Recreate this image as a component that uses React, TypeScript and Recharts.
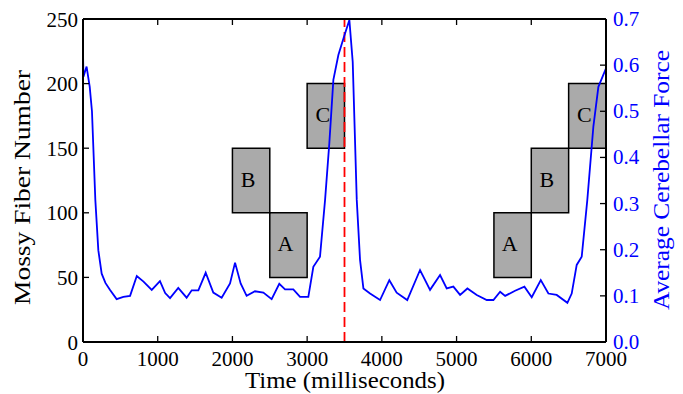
import React from 'react';
import { ComposedChart, Line, XAxis, YAxis, ReferenceArea, ReferenceLine } from 'recharts';

const FONT = '"Liberation Serif", "Times New Roman", serif';

// Time (ms) and average cerebellar force
const timeMs = [
  0, 6, 48, 90, 120, 165, 205, 250, 300, 360, 450, 540, 630, 720, 810, 920, 1030, 1100, 1165,
  1275, 1387, 1455, 1544, 1642, 1744, 1856, 1968, 2035, 2110, 2190, 2302, 2414, 2525, 2627,
  2704, 2815, 2905, 3016, 3083, 3172, 3240, 3297, 3351, 3418, 3490, 3565, 3610, 3664, 3708,
  3753, 3842, 3976, 4100, 4198, 4340, 4511, 4645, 4779, 4868, 4957, 5047, 5145, 5270, 5404,
  5493, 5583, 5650, 5783, 5908, 6006, 6127, 6229, 6340, 6483, 6541, 6608, 6675, 6750, 6831,
  6898, 7000,
];
const force = [
  0.628, 0.575, 0.597, 0.553, 0.5, 0.308, 0.199, 0.148, 0.128, 0.113, 0.093, 0.098, 0.1, 0.143,
  0.131, 0.113, 0.132, 0.106, 0.095, 0.117, 0.096, 0.112, 0.112, 0.15, 0.107, 0.096, 0.127,
  0.172, 0.127, 0.1, 0.11, 0.107, 0.093, 0.126, 0.114, 0.114, 0.098, 0.098, 0.163, 0.185,
  0.308, 0.431, 0.568, 0.622, 0.66, 0.698, 0.607, 0.308, 0.178, 0.116, 0.105, 0.091, 0.134,
  0.107, 0.091, 0.156, 0.113, 0.145, 0.116, 0.12, 0.102, 0.116, 0.102, 0.091, 0.091, 0.109,
  0.1, 0.111, 0.12, 0.097, 0.134, 0.105, 0.102, 0.085, 0.105, 0.167, 0.185, 0.308, 0.467,
  0.553, 0.593,
];

const xTicks = [0, 1000, 2000, 3000, 4000, 5000, 6000, 7000];
const leftTicks = [0, 50, 100, 150, 200, 250];
const rightTicks = [0, 0.1, 0.2, 0.3, 0.4, 0.5, 0.6, 0.7];

// Mossy fiber boxes
const boxLabels = ['A', 'B', 'C', 'A', 'B', 'C'];
const boxStart = [2500, 2000, 3000, 5500, 6000, 6500];
const boxEnd = [3000, 2500, 3500, 6000, 6500, 7000];
const boxLow = [50, 100, 150, 50, 100, 150];
const boxHigh = [100, 150, 200, 100, 150, 200];

const markerTime = 3500;

const data = timeMs.map((t, i) => ({ t, force: force[i] }));

const TL = 6;
const TW = 1.3;

// tickSize = 0 and tickMargin = 0, so (x, y) is the tick's point on the frame; ticks point inward
const BottomTick = (p: any) => (
  <g>
    <line x1={p.x} y1={p.y} x2={p.x} y2={p.y - TL} stroke="#000" strokeWidth={TW} />
    <text x={p.x} y={p.y + 24} textAnchor="middle" fontSize={21} fill="#000" fontFamily={FONT}>
      {p.payload.value}
    </text>
  </g>
);
const TopTick = (p: any) => (
  <line x1={p.x} y1={p.y} x2={p.x} y2={p.y + TL} stroke="#000" strokeWidth={TW} />
);
const LeftTick = (p: any) => (
  <g>
    <line x1={p.x} y1={p.y} x2={p.x + TL} y2={p.y} stroke="#000" strokeWidth={TW} />
    <text x={p.x - 5} y={p.y + 7.5} textAnchor="end" fontSize={21} fill="#000" fontFamily={FONT}>
      {p.payload.value}
    </text>
  </g>
);
const RightTick = (p: any) => (
  <g>
    <line x1={p.x} y1={p.y} x2={p.x - TL} y2={p.y} stroke="#000" strokeWidth={TW} />
    <text x={p.x + 7} y={p.y + 7} textAnchor="start" fontSize={21} fill="#0000ff" fontFamily={FONT}>
      {Number(p.payload.value).toFixed(1)}
    </text>
  </g>
);

const BoxLabel = (props: any) => {
  const vb = props.viewBox || {};
  return (
    <text
      x={vb.x + vb.width / 2 - 3}
      y={vb.y + vb.height / 2 + 6}
      textAnchor="middle"
      fontSize={22}
      fill="#000"
      fontFamily={FONT}
    >
      {props.value}
    </text>
  );
};

export default function App() {
  return (
    <div style={{ position: 'absolute', left: 0, top: 0, width: 683, height: 394, background: '#fff' }}>
      <ComposedChart
        width={683}
        height={394}
        data={data}
        margin={{ top: 18, right: 0, bottom: 0, left: 0 }}
        style={{ fontFamily: FONT }}
      >
        <XAxis
          dataKey="t"
          type="number"
          domain={[0, 7000]}
          allowDataOverflow
          ticks={xTicks}
          height={52}
          axisLine={{ stroke: '#000', strokeWidth: 2 }}
          tickLine={false}
          tickSize={0}
          tickMargin={0}
          tick={BottomTick}
          interval={0}
          label={{
            content: () => (
              <text x={345} y={388} textAnchor="middle" fontSize={24} fill="#000" fontFamily={FONT} textLength={200} lengthAdjust="spacingAndGlyphs">
                Time (milliseconds)
              </text>
            ),
          }}
        />
        <XAxis
          xAxisId="top"
          orientation="top"
          dataKey="t"
          type="number"
          domain={[0, 7000]}
          allowDataOverflow
          ticks={xTicks}
          height={1}
          axisLine={{ stroke: '#000', strokeWidth: 2 }}
          tickLine={false}
          tickSize={0}
          tickMargin={0}
          tick={TopTick}
          interval={0}
        />
        <YAxis
          yAxisId="left"
          orientation="left"
          type="number"
          domain={[0, 250]}
          allowDataOverflow
          ticks={leftTicks}
          width={83}
          axisLine={{ stroke: '#000', strokeWidth: 2 }}
          tickLine={false}
          tickSize={0}
          tickMargin={0}
          tick={LeftTick}
          interval={0}
          label={{
            content: () => (
              <text transform="translate(29.5,187.5) rotate(-90)" textAnchor="middle" fontSize={24} fill="#000" fontFamily={FONT} textLength={235} lengthAdjust="spacingAndGlyphs">
                Mossy Fiber Number
              </text>
            ),
          }}
        />
        <YAxis
          yAxisId="right"
          orientation="right"
          type="number"
          domain={[0, 0.7]}
          allowDataOverflow
          ticks={rightTicks}
          width={77}
          axisLine={{ stroke: '#000', strokeWidth: 2 }}
          tickLine={false}
          tickSize={0}
          tickMargin={0}
          tick={RightTick}
          interval={0}
          label={{
            content: () => (
              <text transform="translate(668.5,180) rotate(-90)" textAnchor="middle" fontSize={24} fill="#0000ff" fontFamily={FONT} textLength={260} lengthAdjust="spacingAndGlyphs">
                Average Cerebellar Force
              </text>
            ),
          }}
        />
        {boxLabels.map((lab, i) => (
          <ReferenceArea
            key={i}
            yAxisId="left"
            x1={boxStart[i]}
            x2={boxEnd[i]}
            y1={boxLow[i]}
            y2={boxHigh[i]}
            fill="#aaaaaa"
            fillOpacity={1}
            stroke="#000"
            strokeWidth={1.5}
            ifOverflow="visible"
            label={<BoxLabel value={lab} />}
          />
        ))}
        <ReferenceLine
          yAxisId="left"
          x={markerTime}
          stroke="#ff0000"
          strokeWidth={1.8}
          strokeDasharray="10 5"
          ifOverflow="visible"
        />
        <Line
          yAxisId="right"
          dataKey="force"
          type="linear"
          stroke="#0000ff"
          strokeWidth={1.8}
          dot={false}
          activeDot={false}
          isAnimationActive={false}
        />
      </ComposedChart>
    </div>
  );
}
